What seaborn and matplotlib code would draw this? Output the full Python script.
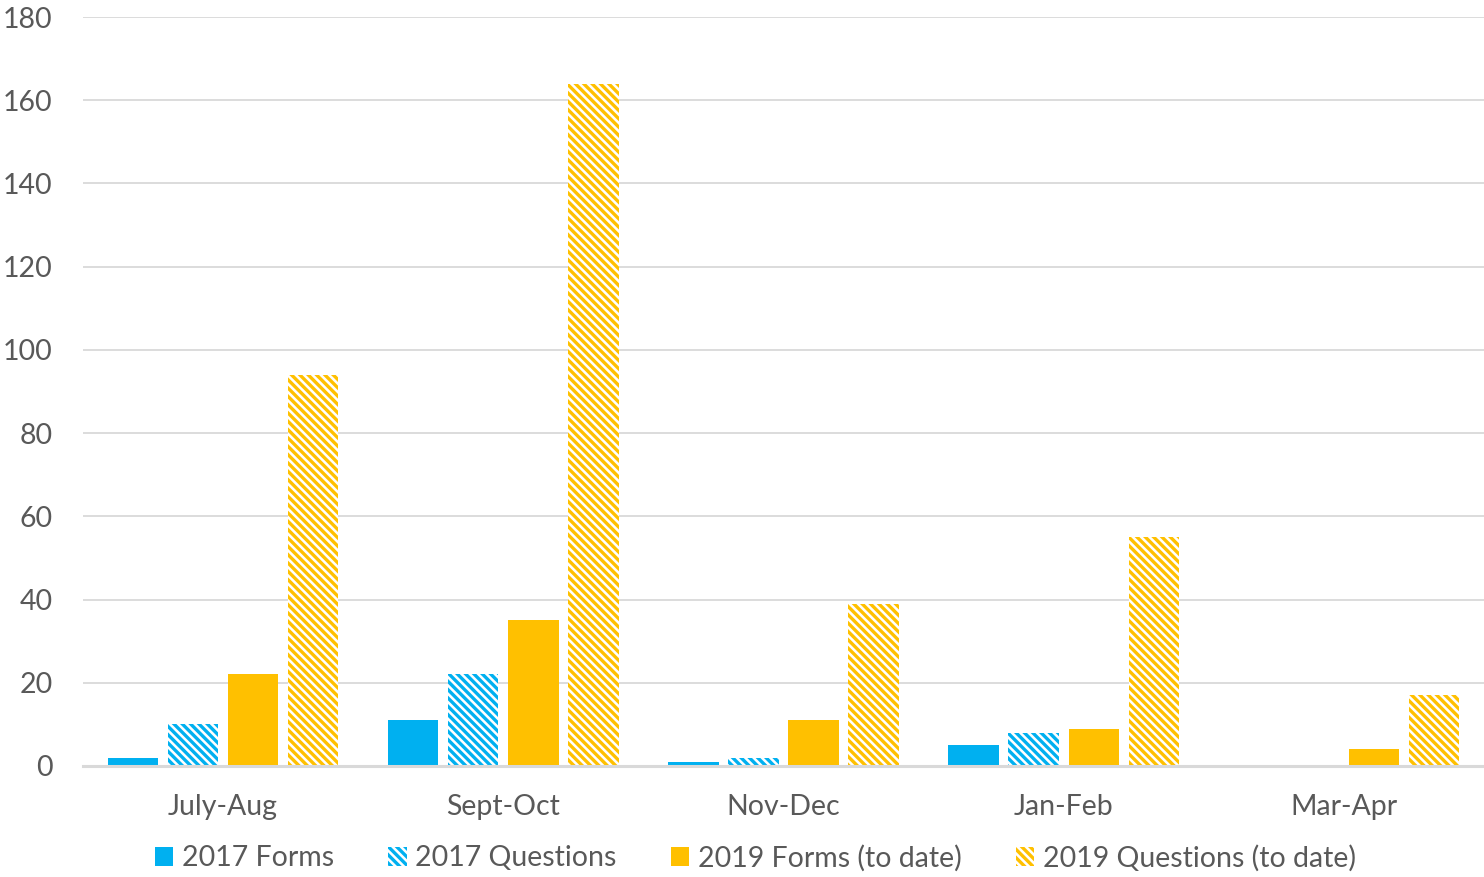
import pandas as pd
import matplotlib
matplotlib.use("Agg")
import matplotlib.pyplot as plt
import seaborn as sns
from matplotlib.patches import Patch

# Datos
periodos = ["July-Aug", "Sept-Oct", "Nov-Dec", "Jan-Feb", "Mar-Apr"]
series = ["2017 Forms", "2017 Questions", "2019 Forms (to date)", "2019 Questions (to date)"]
forms_2017 = [2, 11, 1, 5, 0]
questions_2017 = [10, 22, 2, 8, 0]
forms_2019 = [22, 35, 11, 9, 4]
questions_2019 = [94, 164, 39, 55, 17]

azul = "#00B0F0"
naranja = "#FFC000"
colores = [azul, azul, naranja, naranja]
rayado = [False, True, False, True]
patron = "\\" * 4

df = pd.DataFrame({
    "periodo": periodos * 4,
    "serie": [s for s in series for _ in periodos],
    "valor": forms_2017 + questions_2017 + forms_2019 + questions_2019,
})

sns.set_style("white")
plt.rcParams["font.family"] = ["Lato", "DejaVu Sans"]
plt.rcParams["hatch.linewidth"] = 2.4

gris = "#595959"
fig = plt.figure(figsize=(14.84, 8.77), dpi=100)
ax = fig.add_axes([83 / 1484, 111 / 877, 1401 / 1484, 749 / 877])

sns.barplot(data=df, x="periodo", y="valor", hue="serie", palette=colores,
            width=0.857, gap=0.16, saturation=1, errorbar=None, legend=False, ax=ax)

for cont, col, r in zip(ax.containers, colores, rayado):
    for barra in cont:
        if r:
            barra.set_facecolor("white")
            barra.set_edgecolor(col)
            barra.set_hatch(patron)
        barra.set_linewidth(0)

ax.set_xlim(-0.5, 4.5)
ax.set_ylim(0, 180)
ax.set_yticks(range(0, 181, 20))
ax.set_xlabel("")
ax.set_ylabel("")
ax.yaxis.grid(True, color="#D9D9D9", lw=1.3)
ax.set_axisbelow(True)
for lado in ["left", "right", "top"]:
    ax.spines[lado].set_visible(False)
ax.spines["bottom"].set_color("#D9D9D9")
ax.spines["bottom"].set_linewidth(2.2)
ax.tick_params(axis="y", length=0, pad=22, labelsize=20.5, labelcolor=gris)
ax.tick_params(axis="x", length=0, pad=20, labelsize=20.5, labelcolor=gris)

handles = []
for col, r in zip(colores, rayado):
    if r:
        handles.append(Patch(facecolor="white", edgecolor=col, hatch=patron, linewidth=0))
    else:
        handles.append(Patch(facecolor=col, linewidth=0))
fig.legend(handles, series, loc="center", bbox_to_anchor=(0.509, 0.0217), ncol=4,
           frameon=False, fontsize=20.5, labelcolor=gris, handlelength=0.65, handleheight=0.65,
           handletextpad=0.3, columnspacing=1.9)

fig.savefig("out.png", dpi=100)
